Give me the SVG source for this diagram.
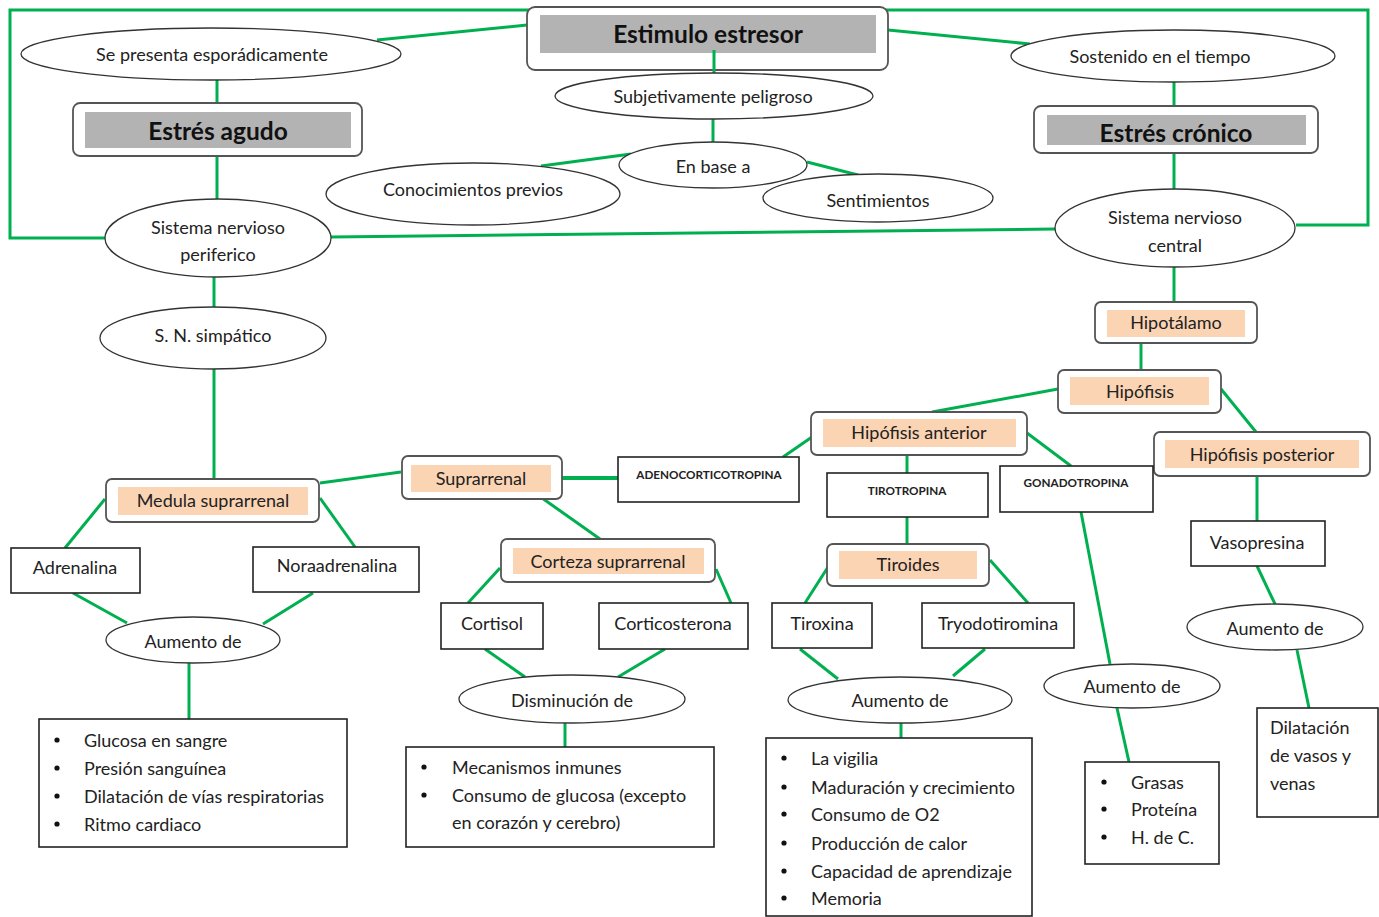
<svg xmlns="http://www.w3.org/2000/svg" width="1379" height="917" viewBox="0 0 1379 917">
<style>
.c{stroke:#00b050;stroke-width:3;fill:none;stroke-linecap:butt}
.e{fill:#fff;stroke:#333;stroke-width:1.3}
.rb{fill:#fff;stroke:#555;stroke-width:1.8}
.b{fill:#fff;stroke:#222;stroke-width:1.6}
.or{fill:#fbd4b4}
.gr{fill:#b3b3b3}
text{font-family:Lato,"Open Sans","Liberation Sans",sans-serif;font-size:18px;fill:#222;dominant-baseline:central}
.m{text-anchor:middle}
.h{font-weight:bold;font-size:24.5px;fill:#111}
.s{font-size:11.7px;font-weight:bold;fill:#222}
</style>
<rect width="1379" height="917" fill="#fff"/>
<g id="connectors">
<polyline class="c" points="105,238 10,238 10,10 1368,10 1368,225 1296,225"/>
<line class="c" x1="377" y1="40" x2="527" y2="25"/>
<line class="c" x1="888" y1="30" x2="1030" y2="44"/>
<line class="c" x1="217" y1="80" x2="217" y2="103"/>
<line class="c" x1="217" y1="156" x2="217" y2="199"/>
<line class="c" x1="331" y1="237" x2="1055" y2="229"/>
<line class="c" x1="1174" y1="82" x2="1174" y2="106"/>
<line class="c" x1="1174" y1="153" x2="1174" y2="189"/>
<line class="c" x1="713" y1="118" x2="713" y2="142"/>
<line class="c" x1="631" y1="154" x2="541" y2="166"/>
<line class="c" x1="807" y1="162" x2="858" y2="175"/>
<line class="c" x1="214" y1="277" x2="214" y2="308"/>
<line class="c" x1="214" y1="369" x2="214" y2="480"/>
<line class="c" x1="320" y1="483" x2="401" y2="472"/>
<line class="c" x1="105" y1="499" x2="65" y2="548"/>
<line class="c" x1="320" y1="498" x2="355" y2="547"/>
<line class="c" x1="73" y1="593" x2="127" y2="623"/>
<line class="c" x1="313" y1="593" x2="263" y2="624"/>
<line class="c" x1="189" y1="663" x2="189" y2="720"/>
<line class="c" x1="562" y1="478" x2="619" y2="478" style="stroke-width:4"/>
<line class="c" x1="542" y1="498" x2="600" y2="539"/>
<line class="c" x1="500" y1="568" x2="468" y2="603"/>
<line class="c" x1="716" y1="569" x2="731" y2="603"/>
<line class="c" x1="485" y1="649" x2="525" y2="677"/>
<line class="c" x1="665" y1="649" x2="618" y2="677"/>
<line class="c" x1="565" y1="723" x2="565" y2="747"/>
<line class="c" x1="1174" y1="267" x2="1174" y2="302"/>
<line class="c" x1="1141" y1="343" x2="1141" y2="370"/>
<line class="c" x1="1058" y1="389" x2="932" y2="412"/>
<line class="c" x1="1221" y1="389" x2="1256" y2="432"/>
<line class="c" x1="783" y1="457" x2="812" y2="437"/>
<line class="c" x1="1027" y1="433" x2="1071" y2="466"/>
<line class="c" x1="907" y1="455" x2="907" y2="473"/>
<line class="c" x1="907" y1="517" x2="907" y2="544"/>
<line class="c" x1="828" y1="567" x2="805" y2="603"/>
<line class="c" x1="990" y1="560" x2="1028" y2="603"/>
<line class="c" x1="800" y1="649" x2="838" y2="679"/>
<line class="c" x1="985" y1="649" x2="953" y2="676"/>
<line class="c" x1="901" y1="722" x2="901" y2="738"/>
<line class="c" x1="1081" y1="512" x2="1110" y2="664"/>
<line class="c" x1="1117" y1="708" x2="1129" y2="762"/>
<line class="c" x1="1257" y1="476" x2="1257" y2="521"/>
<line class="c" x1="1257" y1="566" x2="1275" y2="604"/>
<line class="c" x1="1297" y1="650" x2="1309" y2="708"/>
</g>
<g id="estimulo">
<rect class="rb" x="527" y="7" width="361" height="63" rx="8"/>
<rect class="gr" x="540" y="15" width="336" height="38"/>
<text class="m h" x="708" y="33">Estimulo estresor</text>
</g>
<g id="connectors-front">
<line class="c" x1="714" y1="50" x2="714" y2="73"/>
</g>
<g id="se-presenta">
<ellipse class="e" cx="211" cy="54" rx="190" ry="26"/>
<text class="m" x="212" y="54">Se presenta esporádicamente</text>
</g>
<g id="sostenido">
<ellipse class="e" cx="1173" cy="56" rx="162" ry="26"/>
<text class="m" x="1160" y="56">Sostenido en el tiempo</text>
</g>
<g id="subjetivamente">
<ellipse class="e" cx="714" cy="96" rx="159" ry="23"/>
<text class="m" x="713" y="96">Subjetivamente peligroso</text>
</g>
<g id="agudo">
<rect class="rb" x="73" y="103" width="289" height="53" rx="7"/>
<rect class="gr" x="85" y="112" width="266" height="36"/>
<text class="m h" x="218" y="130">Estrés agudo</text>
</g>
<g id="cronico">
<rect class="rb" x="1034" y="106" width="284" height="47" rx="7"/>
<rect class="gr" x="1047" y="115" width="259" height="30"/>
<text class="m h" x="1176" y="132">Estrés crónico</text>
</g>
<g id="en-base">
<ellipse class="e" cx="713" cy="165" rx="94" ry="23"/>
<text class="m" x="713" y="166">En base a</text>
</g>
<g id="conocimientos">
<ellipse class="e" cx="473" cy="194" rx="147" ry="31"/>
<text class="m" x="473" y="189">Conocimientos previos</text>
</g>
<g id="sentimientos">
<ellipse class="e" cx="878" cy="198" rx="115" ry="24"/>
<text class="m" x="878" y="200">Sentimientos</text>
</g>
<g id="snp">
<ellipse class="e" cx="218" cy="238" rx="113" ry="39"/>
<text class="m" x="218" y="227">Sistema nervioso</text>
<text class="m" x="218" y="254">periferico</text>
</g>
<g id="snc">
<ellipse class="e" cx="1175" cy="228" rx="120" ry="39"/>
<text class="m" x="1175" y="217">Sistema nervioso</text>
<text class="m" x="1175" y="245">central</text>
</g>
<g id="simpatico">
<ellipse class="e" cx="213" cy="338" rx="113" ry="31"/>
<text class="m" x="213" y="335">S. N. simpático</text>
</g>
<g id="hipotalamo">
<rect class="rb" x="1095" y="302" width="162" height="41" rx="6"/>
<rect class="or" x="1107" y="310" width="138" height="27"/>
<text class="m" x="1176" y="322">Hipotálamo</text>
</g>
<g id="hipofisis">
<rect class="rb" x="1058" y="370" width="163" height="43" rx="6"/>
<rect class="or" x="1070" y="377" width="139" height="28"/>
<text class="m" x="1140" y="391">Hipófisis</text>
</g>
<g id="hip-anterior">
<rect class="rb" x="811" y="412" width="216" height="43" rx="6"/>
<rect class="or" x="823" y="419" width="193" height="28"/>
<text class="m" x="919" y="432">Hipófisis anterior</text>
</g>
<g id="hip-posterior">
<rect class="rb" x="1154" y="432" width="216" height="44" rx="6"/>
<rect class="or" x="1165" y="440" width="194" height="28"/>
<text class="m" x="1262" y="454">Hipófisis posterior</text>
</g>
<g id="medula">
<rect class="rb" x="106" y="479" width="213" height="43" rx="6"/>
<rect class="or" x="118" y="487" width="190" height="28"/>
<text class="m" x="213" y="500">Medula suprarrenal</text>
</g>
<g id="suprarrenal">
<rect class="rb" x="402" y="456" width="160" height="43" rx="6"/>
<rect class="or" x="411" y="465" width="140" height="27"/>
<text class="m" x="481" y="478">Suprarrenal</text>
</g>
<g id="adeno">
<rect class="b" x="618" y="457" width="181" height="45"/>
<text class="m s" x="709" y="474">ADENOCORTICOTROPINA</text>
</g>
<g id="tirotropina">
<rect class="b" x="827" y="473" width="161" height="44"/>
<text class="m s" x="907" y="490">TIROTROPINA</text>
</g>
<g id="gonadotropina">
<rect class="b" x="1000" y="466" width="153" height="46"/>
<text class="m s" x="1076" y="482">GONADOTROPINA</text>
</g>
<g id="corteza">
<rect class="rb" x="501" y="539" width="214" height="43" rx="6"/>
<rect class="or" x="513" y="548" width="191" height="26"/>
<text class="m" x="608" y="561">Corteza suprarrenal</text>
</g>
<g id="tiroides">
<rect class="rb" x="827" y="544" width="162" height="42" rx="6"/>
<rect class="or" x="839" y="551" width="138" height="28"/>
<text class="m" x="908" y="564">Tiroides</text>
</g>
<g id="vasopresina">
<rect class="b" x="1191" y="521" width="134" height="45"/>
<text class="m" x="1257" y="542">Vasopresina</text>
</g>
<g id="adrenalina">
<rect class="b" x="11" y="548" width="129" height="45"/>
<text class="m" x="75" y="567">Adrenalina</text>
</g>
<g id="noraadrenalina">
<rect class="b" x="253" y="547" width="166" height="45"/>
<text class="m" x="337" y="565">Noraadrenalina</text>
</g>
<g id="cortisol">
<rect class="b" x="441" y="603" width="102" height="46"/>
<text class="m" x="492" y="623">Cortisol</text>
</g>
<g id="corticosterona">
<rect class="b" x="599" y="603" width="149" height="46"/>
<text class="m" x="673" y="623">Corticosterona</text>
</g>
<g id="tiroxina">
<rect class="b" x="772" y="603" width="100" height="45"/>
<text class="m" x="822" y="623">Tiroxina</text>
</g>
<g id="tryodotiromina">
<rect class="b" x="922" y="603" width="152" height="45"/>
<text class="m" x="998" y="623">Tryodotiromina</text>
</g>
<g id="aumento-1">
<ellipse class="e" cx="193" cy="640" rx="87" ry="23"/>
<text class="m" x="193" y="641">Aumento de</text>
</g>
<g id="aumento-4">
<ellipse class="e" cx="1275" cy="627" rx="88" ry="23"/>
<text class="m" x="1275" y="628">Aumento de</text>
</g>
<g id="aumento-3">
<ellipse class="e" cx="1132" cy="686" rx="88" ry="22"/>
<text class="m" x="1132" y="686">Aumento de</text>
</g>
<g id="disminucion">
<ellipse class="e" cx="572" cy="699" rx="113" ry="24"/>
<text class="m" x="572" y="700">Disminución de</text>
</g>
<g id="aumento-2">
<ellipse class="e" cx="900" cy="700" rx="112" ry="23"/>
<text class="m" x="900" y="700">Aumento de</text>
</g>
<g id="dilatacion">
<rect class="b" x="1257" y="708" width="121" height="109"/>
<text x="1270" y="727">Dilatación</text>
<text x="1270" y="755">de vasos y</text>
<text x="1270" y="783">venas</text>
</g>
<g id="lista-1">
<rect class="b" x="39" y="719" width="308" height="128"/>
<circle cx="57" cy="740" r="2.6" fill="#111"/><circle cx="57" cy="768" r="2.6" fill="#111"/><circle cx="57" cy="796" r="2.6" fill="#111"/><circle cx="57" cy="824" r="2.6" fill="#111"/>
<text x="84" y="740">Glucosa en sangre</text>
<text x="84" y="768">Presión sanguínea</text>
<text x="84" y="796">Dilatación de vías respiratorias</text>
<text x="84" y="824">Ritmo cardiaco</text>
</g>
<g id="lista-2">
<rect class="b" x="406" y="747" width="308" height="100"/>
<circle cx="424" cy="767" r="2.6" fill="#111"/><circle cx="424" cy="795" r="2.6" fill="#111"/>
<text x="452" y="767">Mecanismos inmunes</text>
<text x="452" y="795">Consumo de glucosa (excepto</text>
<text x="452" y="822">en corazón y cerebro)</text>
</g>
<g id="lista-3">
<rect class="b" x="766" y="738" width="266" height="178"/>
<circle cx="784" cy="758" r="2.6" fill="#111"/><circle cx="784" cy="787" r="2.6" fill="#111"/><circle cx="784" cy="814" r="2.6" fill="#111"/><circle cx="784" cy="843" r="2.6" fill="#111"/><circle cx="784" cy="871" r="2.6" fill="#111"/><circle cx="784" cy="898" r="2.6" fill="#111"/>
<text x="811" y="758">La vigilia</text>
<text x="811" y="787">Maduración y crecimiento</text>
<text x="811" y="814">Consumo de O2</text>
<text x="811" y="843">Producción de calor</text>
<text x="811" y="871">Capacidad de aprendizaje</text>
<text x="811" y="898">Memoria</text>
</g>
<g id="lista-4">
<rect class="b" x="1085" y="762" width="134" height="102"/>
<circle cx="1104" cy="782" r="2.6" fill="#111"/><circle cx="1104" cy="809" r="2.6" fill="#111"/><circle cx="1104" cy="837" r="2.6" fill="#111"/>
<text x="1131" y="782">Grasas</text>
<text x="1131" y="809">Proteína</text>
<text x="1131" y="837">H. de C.</text>
</g>
</svg>
